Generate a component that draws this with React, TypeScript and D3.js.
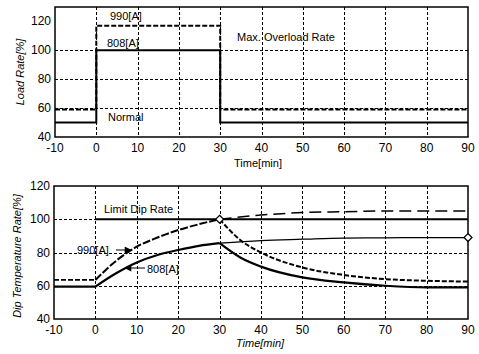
import React from "react";
import * as d3 from "d3";

const xTicks = [-10, 0, 10, 20, 30, 40, 50, 60, 70, 80, 90];
const loadTicks = [40, 60, 80, 100, 120];
const dipTicks = [40, 60, 80, 100, 120];

// Top chart: step series (value holds from t[i] to t[i+1])
const loadT = [-10, 0, 30, 90];
const load808 = [50, 100, 50, 50];
const load990 = [59, 117, 59, 59];

// Bottom chart
const preT = [-10, 0];
const pre990 = [63.5, 63.5];
const pre808 = [59.5, 59.5];
const riseT = [0, 5, 10, 15, 20, 25, 30];
const rise990 = [63.5, 75, 83.5, 89, 93.5, 97, 100];
const rise808 = [59.5, 67.5, 74, 78.5, 81.5, 84, 85.6];
const afterT = [30, 40, 50, 60, 70, 80, 90];
const cont990 = [100, 102.5, 104, 104.5, 105, 105, 105];
const cont808 = [85.6, 87.2, 88, 88.7, 88.8, 89, 89];
const decayT = [30, 35, 40, 50, 60, 70, 80, 90];
const decay990 = [100, 87.5, 80, 71, 66.5, 64, 63, 62.5];
const decay808 = [85.6, 77, 71.5, 65, 62, 60, 59, 59];
const limitT = [0, 90];
const limitV = [100, 100];

const font = "'Liberation Sans', Arial, sans-serif";

function Frame({ x, y, top, bottom, yTicks }: any) {
  const [x0, x1] = x.range();
  const gx = xTicks.slice(1, -1).map((t) => Math.round(x(t)) + 0.5);
  const gy = yTicks.slice(1, -1).map((t: number) => Math.round(y(t)) + 0.5);
  return (
    <g>
      {gx.map((px: number, i: number) => (
        <line key={"gx" + i} x1={px} x2={px} y1={top} y2={bottom} stroke="#000" strokeWidth={1} strokeDasharray="3,2" />
      ))}
      {gy.map((py: number, i: number) => (
        <line key={"gy" + i} x1={x0} x2={x1} y1={py} y2={py} stroke="#000" strokeWidth={1} strokeDasharray="3,2" />
      ))}
      <rect x={x0} y={top} width={x1 - x0} height={bottom - top} fill="none" stroke="#000" strokeWidth={1.5} />
      {xTicks.map((t) => (
        <text key={"tx" + t} x={x(t)} y={bottom + 15} textAnchor="middle" fontSize={12} fontFamily={font}>{t}</text>
      ))}
      {yTicks.map((t: number) => (
        <text key={"ty" + t} x={x0 - 4} y={y(t) + 4} textAnchor="end" fontSize={12} fontFamily={font}>{t}</text>
      ))}
    </g>
  );
}

export default function App() {
  const xTop = d3.scaleLinear().domain([-10, 90]).range([55, 468]);
  const yTop = d3.scaleLinear().domain([40, 130]).range([137, 7]);
  const xBot = d3.scaleLinear().domain([-10, 90]).range([54, 468]);
  const yBot = d3.scaleLinear().domain([40, 120]).range([319, 186]);

  const stepTop = d3.line<number>().x((_, i) => xTop(loadT[i])).y((v) => yTop(v)).curve(d3.curveStepAfter);
  const mk = (ts: number[]) =>
    d3.line<number>().x((_, i) => xBot(ts[i])).y((v) => yBot(v)).curve(d3.curveMonotoneX);

  return (
    <svg width={479} height={354} style={{ position: "absolute", left: 0, top: 0 }}>
      <defs>
        <marker id="ah" viewBox="0 0 10 10" refX="9" refY="5" markerWidth="8" markerHeight="7" orient="auto-start-reverse">
          <path d="M0,0 L10,5 L0,10 z" fill="#000" />
        </marker>
      </defs>
      <rect width={479} height={354} fill="#fff" />
      {/* Top chart */}
      <Frame x={xTop} y={yTop} top={7} bottom={137} yTicks={loadTicks} />
      <path d={stepTop(load808) || ""} fill="none" stroke="#000" strokeWidth={2} />
      <path d={stepTop(load990) || ""} fill="none" stroke="#000" strokeWidth={2} strokeDasharray="5,2" />
      <text x={110} y={20} fontSize={11} fontFamily={font}>990[A]</text>
      <text x={107} y={47} fontSize={11} fontFamily={font}>808[A]</text>
      <text x={237} y={41} fontSize={11} fontFamily={font}>Max.  Overload Rate</text>
      <text x={108} y={121} fontSize={11} fontFamily={font}>Normal</text>
      <text x={258} y={167} textAnchor="middle" fontSize={11} fontFamily={font}>Time[min]</text>
      <text transform="translate(24,72) rotate(-90)" textAnchor="middle" fontSize={11} fontStyle="italic" fontFamily={font}>Load Rate[%]</text>

      {/* Bottom chart */}
      <Frame x={xBot} y={yBot} top={186} bottom={319} yTicks={dipTicks} />
      <path d={mk(limitT)(limitV) || ""} fill="none" stroke="#000" strokeWidth={1.8} />
      <path d={mk(preT)(pre808) || ""} fill="none" stroke="#000" strokeWidth={2.2} />
      <path d={mk(riseT)(rise808) || ""} fill="none" stroke="#000" strokeWidth={2.2} />
      <path d={mk(afterT)(cont808) || ""} fill="none" stroke="#000" strokeWidth={1.2} />
      <path d={mk(decayT)(decay808) || ""} fill="none" stroke="#000" strokeWidth={2.2} />
      <path d={mk(preT)(pre990) || ""} fill="none" stroke="#000" strokeWidth={1.8} strokeDasharray="5,2" />
      <path d={mk(riseT)(rise990) || ""} fill="none" stroke="#000" strokeWidth={2} strokeDasharray="8,2" />
      <path d={mk(afterT)(cont990) || ""} fill="none" stroke="#000" strokeWidth={1.5} strokeDasharray="12,6" />
      <path d={mk(decayT)(decay990) || ""} fill="none" stroke="#000" strokeWidth={2} strokeDasharray="5,2" />
      {[[30, 100], [90, 89]].map(([t, v], i) => (
        <path key={"dm" + i} d={`M${xBot(t)},${yBot(v) - 4} l4,4 l-4,4 l-4,-4 z`} fill="#fff" stroke="#000" strokeWidth={1.2} />
      ))}
      <text x={104} y={213} fontSize={11} fontFamily={font}>Limit Dip Rate</text>
      <text x={77} y={254} fontSize={11} fontFamily={font}>990[A]</text>
      <line x1={116} y1={250} x2={131} y2={250} stroke="#000" strokeWidth={1} markerEnd="url(#ah)" />
      <text x={147} y={273} fontSize={11} fontFamily={font}>808[A]</text>
      <line x1={145} y1={268} x2={125} y2={268} stroke="#000" strokeWidth={1} markerEnd="url(#ah)" />
      <text x={260} y={347} textAnchor="middle" fontSize={11} fontStyle="italic" fontFamily={font}>Time[min]</text>
      <text transform="translate(21,256) rotate(-90)" textAnchor="middle" fontSize={11} fontStyle="italic" fontFamily={font}>Dip Temperature Rate[%]</text>
    </svg>
  );
}
